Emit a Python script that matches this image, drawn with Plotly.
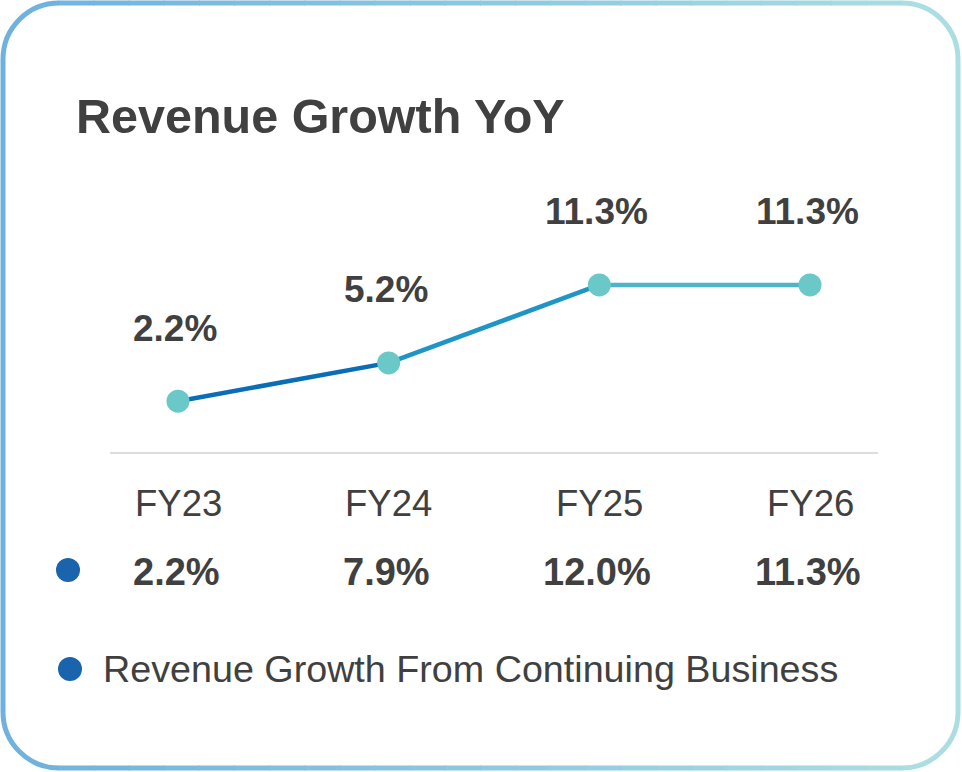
import plotly.graph_objects as go

# ---------------- data ----------------
categories = ["FY23", "FY24", "FY25", "FY26"]
growth_yoy = [2.2, 5.2, 11.3, 11.3]
yoy_labels = ["2.2%", "5.2%", "11.3%", "11.3%"]
continuing_labels = ["2.2%", "7.9%", "12.0%", "11.3%"]
title_text = "Revenue Growth YoY"
legend_text = "Revenue Growth From Continuing Business"

# ---------------- styling ----------------
W, H = 962, 772
FONT = "Liberation Sans, Arial, Helvetica, sans-serif"
TXT = "#404040"
seg_colors = ["#0A6EB6", "#1F95C6", "#4CB5CA"]
marker_color = "#6BC8C8"
dot_color = "#1A64AD"


def px(x):
    return x / W


def py(y):
    return 1 - y / H


def hex2rgb(h):
    h = h.lstrip("#")
    return tuple(int(h[i:i + 2], 16) for i in (0, 2, 4))


C_LEFT = hex2rgb("#6FB1DE")
C_RIGHT = hex2rgb("#ABDFE2")


def grad(xp):
    t = min(max(xp / W, 0), 1)
    r, g, b = (round(C_LEFT[k] + (C_RIGHT[k] - C_LEFT[k]) * t) for k in range(3))
    return f"rgb({r},{g},{b})"


fig = go.Figure()

# line segments (one colour per segment to mimic the gradient)
for i in range(len(categories) - 1):
    fig.add_trace(go.Scatter(
        x=categories[i:i + 2], y=growth_yoy[i:i + 2], mode="lines",
        line=dict(color=seg_colors[i], width=4.5),
        hoverinfo="skip", showlegend=False))

fig.add_trace(go.Scatter(
    x=categories, y=growth_yoy, mode="markers",
    marker=dict(color=marker_color, size=23, line=dict(width=0)),
    showlegend=False, hoverinfo="x+y"))

annotations = []
for cat, v, lab in zip(categories, growth_yoy, yoy_labels):
    annotations.append(dict(
        x=cat, y=v, xref="x", yref="y", text=lab, showarrow=False,
        yshift=73, xshift=-3, xanchor="center", yanchor="middle",
        font=dict(family=FONT, size=37, color=TXT, weight=700)))
for cat in categories:
    annotations.append(dict(
        x=cat, y=py(503), xref="x", yref="paper", text=cat, showarrow=False,
        xanchor="center", yanchor="middle",
        font=dict(family=FONT, size=36.5, color=TXT)))
for cat, lab in zip(categories, continuing_labels):
    annotations.append(dict(
        x=cat, y=py(572), xref="x", yref="paper", text=lab, showarrow=False,
        xanchor="center", yanchor="middle", xshift=-2,
        font=dict(family=FONT, size=38, color=TXT, weight=700)))
annotations.append(dict(
    x=px(101), y=py(669), xref="paper", yref="paper", text=legend_text,
    showarrow=False, xanchor="left", yanchor="middle",
    font=dict(family=FONT, size=37.7, color=TXT)))

shapes = []
# dots
for cx, cy in [(68, 570), (70, 669)]:
    shapes.append(dict(type="circle", xref="paper", yref="paper",
                       x0=px(cx - 12), x1=px(cx + 12), y0=py(cy + 12), y1=py(cy - 12),
                       fillcolor=dot_color, line=dict(width=0)))

# rounded gradient border
L, T, R, B, rad = 3, 3, 958, 768, 56
k = 0.5523 * rad
bw = 5


def line_shape(x0, y0, x1, y1, col):
    return dict(type="line", xref="paper", yref="paper",
                x0=px(x0), y0=py(y0), x1=px(x1), y1=py(y1),
                line=dict(color=col, width=bw))


def arc(p0, c1, c2, p1, col):
    pts = [p0, c1, c2, p1]
    s = "M {},{} C {},{} {},{} {},{}".format(
        *[v for p in pts for v in (px(p[0]), py(p[1]))])
    return dict(type="path", xref="paper", yref="paper", path=s,
                line=dict(color=col, width=bw))


shapes.append(line_shape(L, T + rad, L, B - rad, grad(L)))
shapes.append(line_shape(R, T + rad, R, B - rad, grad(R)))
N = 24
for i in range(N):
    xa = L + rad + (R - L - 2 * rad) * i / N
    xb = L + rad + (R - L - 2 * rad) * (i + 1) / N
    col = grad((xa + xb) / 2)
    shapes.append(line_shape(xa - 0.5, T, xb + 0.5, T, col))
    shapes.append(line_shape(xa - 0.5, B, xb + 0.5, B, col))
shapes.append(arc((L, T + rad), (L, T + rad - k), (L + rad - k, T), (L + rad, T), grad(L + rad / 3)))
shapes.append(arc((R - rad, T), (R - rad + k, T), (R, T + rad - k), (R, T + rad), grad(R - rad / 3)))
shapes.append(arc((L, B - rad), (L, B - rad + k), (L + rad - k, B), (L + rad, B), grad(L + rad / 3)))
shapes.append(arc((R - rad, B), (R - rad + k, B), (R, B - rad + k), (R, B - rad), grad(R - rad / 3)))

# axis geometry
x_left, x_right = 110, 878
x0_px, x3_px = 178, 810
unit = (x3_px - x0_px) / 3
base_px, top_px = 451.5, 150
y_range = [-1.74, 21.87]

fig.update_layout(
    width=W, height=H, autosize=False,
    margin=dict(l=0, r=0, t=0, b=0),
    paper_bgcolor="white", plot_bgcolor="white",
    title=dict(text=title_text, x=px(76), xanchor="left", xref="paper",
               y=py(116), yanchor="middle", yref="paper",
               font=dict(family=FONT, size=48.5, color=TXT, weight=700)),
    xaxis=dict(domain=[px(x_left), px(x_right)], type="category",
               categoryorder="array", categoryarray=categories,
               range=[-(x0_px - x_left) / unit, 3 + (x_right - x3_px) / unit],
               showgrid=False, zeroline=False, showticklabels=False,
               showline=True, linecolor="#DCDCDC", linewidth=2, ticks=""),
    yaxis=dict(domain=[py(base_px), py(top_px)], range=y_range,
               visible=False, showgrid=False, zeroline=False),
    annotations=annotations, shapes=shapes, showlegend=False,
    hovermode="closest",
)

fig.write_html("out.html", config={"displayModeBar": False},
               post_script="document.body.style.margin='0';document.body.style.overflow='hidden';")
